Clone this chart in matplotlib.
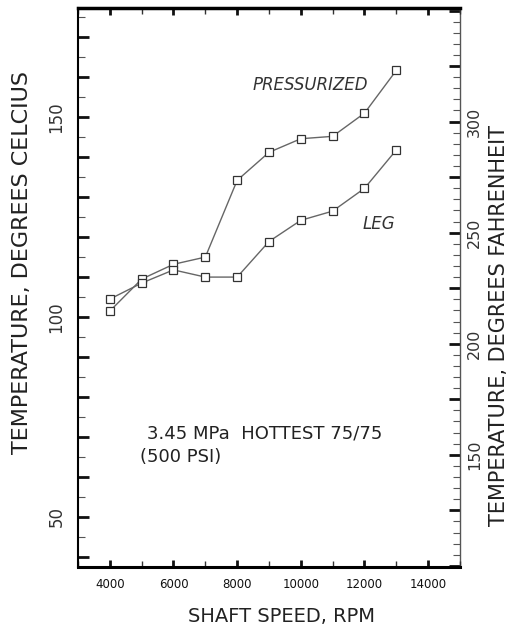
from matplotlib import pyplot as plt
from matplotlib.ticker import MultipleLocator, FixedLocator, FuncFormatter

# data (deg C vs shaft speed)
rpm = [4000, 5000, 6000, 7000, 8000, 9000, 10000, 11000, 12000, 13000]
pressurized = [101.5, 109.5, 113.2, 115.0, 134.2, 141.2, 144.6, 145.2, 151.0, 161.7]
leg = [104.5, 108.5, 111.8, 110.0, 110.0, 118.9, 124.2, 126.5, 132.2, 141.8]

x_ticks = [4000, 6000, 8000, 10000, 12000, 14000]
c_labels = [50, 100, 150]
f_labels = [150, 200, 250, 300]


def c2f(c):
    return c * 9.0 / 5.0 + 32.0


def f2c(f):
    return (f - 32.0) * 5.0 / 9.0


fig = plt.figure(figsize=(5.2, 6.29), dpi=100)
ax = fig.add_axes([0.15, 0.0986, 0.7346, 0.8887])

ln = '#666666'
for vals in (pressurized, leg):
    ax.plot(rpm, vals, color=ln, lw=1.0, marker='s', ms=6, mfc='white',
            mec='#333333', mew=0.9)

ax.set_xlim(3000, 15000)
ax.set_ylim(37.5, 177.3)

# x axis
ax.xaxis.set_major_locator(FixedLocator(x_ticks))
ax.xaxis.set_minor_locator(MultipleLocator(1000))
ax.set_xticklabels([str(v) for v in x_ticks], fontsize=8.5)
ax.tick_params(axis='x', which='major', direction='in', length=5, width=2,
               top=True, pad=8, colors='#111111')
ax.tick_params(axis='x', which='minor', direction='in', length=4, width=1,
               top=True, colors='#333333')

# left axis, celcius
ax.yaxis.set_major_locator(MultipleLocator(10))
ax.yaxis.set_minor_locator(MultipleLocator(5))
ax.yaxis.set_major_formatter(FuncFormatter(lambda v, p: '%d' % v if int(round(v)) in c_labels else ''))
ax.tick_params(axis='y', which='major', direction='in', length=8, width=2,
               pad=9, labelsize=12, colors='#111111', labelcolor='#333333')
ax.tick_params(axis='y', which='minor', direction='in', length=5, width=0.8,
               colors='#555555')
for t in ax.get_yticklabels():
    t.set_rotation(90)
    t.set_va('center')

ax.spines['top'].set_linewidth(2.5)
ax.spines['bottom'].set_linewidth(2.2)
ax.spines['left'].set_linewidth(1.5)
ax.spines['right'].set_visible(False)

# right axis, fahrenheit
sec = ax.secondary_yaxis('right', functions=(c2f, f2c))
sec.yaxis.set_major_locator(MultipleLocator(25))
sec.yaxis.set_minor_locator(MultipleLocator(5))
sec.yaxis.set_major_formatter(FuncFormatter(lambda v, p: '%d' % v if int(round(v)) in f_labels else ''))
sec.tick_params(axis='y', which='major', direction='in', length=8, width=2,
                pad=5, labelsize=11.5, colors='#111111', labelcolor='#333333')
sec.tick_params(axis='y', which='minor', direction='in', length=5, width=0.8,
                colors='#555555')
sec.spines['right'].set_linewidth(1.0)
sec.spines['right'].set_color('#555555')
for t in sec.get_yticklabels():
    t.set_rotation(90)
    t.set_va('center')

# labels
fig.text(22 / 520, 1 - 263 / 629, 'TEMPERATURE, DEGREES CELCIUS', rotation=90,
         ha='center', va='center', fontsize=16, color='#222222')
fig.text(499 / 520, 1 - 325 / 629, 'TEMPERATURE, DEGREES FAHRENHEIT', rotation=90,
         ha='center', va='center', fontsize=15, color='#222222')
fig.text(282 / 520, 1 - 617 / 629, 'SHAFT SPEED, RPM', ha='center', va='center',
         fontsize=14, color='#222222')

ax.text(8480, 158, 'PRESSURIZED', style='italic', fontsize=12, va='center', color='#333333')
ax.text(11950, 123.2, 'LEG', style='italic', fontsize=12, va='center', color='#333333')
ax.text(5167, 71, '3.45 MPa  HOTTEST 75/75', fontsize=13, va='center', color='#222222')
ax.text(4946, 65, '(500 PSI)', fontsize=13, va='center', color='#222222')

plt.savefig('out.png', dpi=100)
